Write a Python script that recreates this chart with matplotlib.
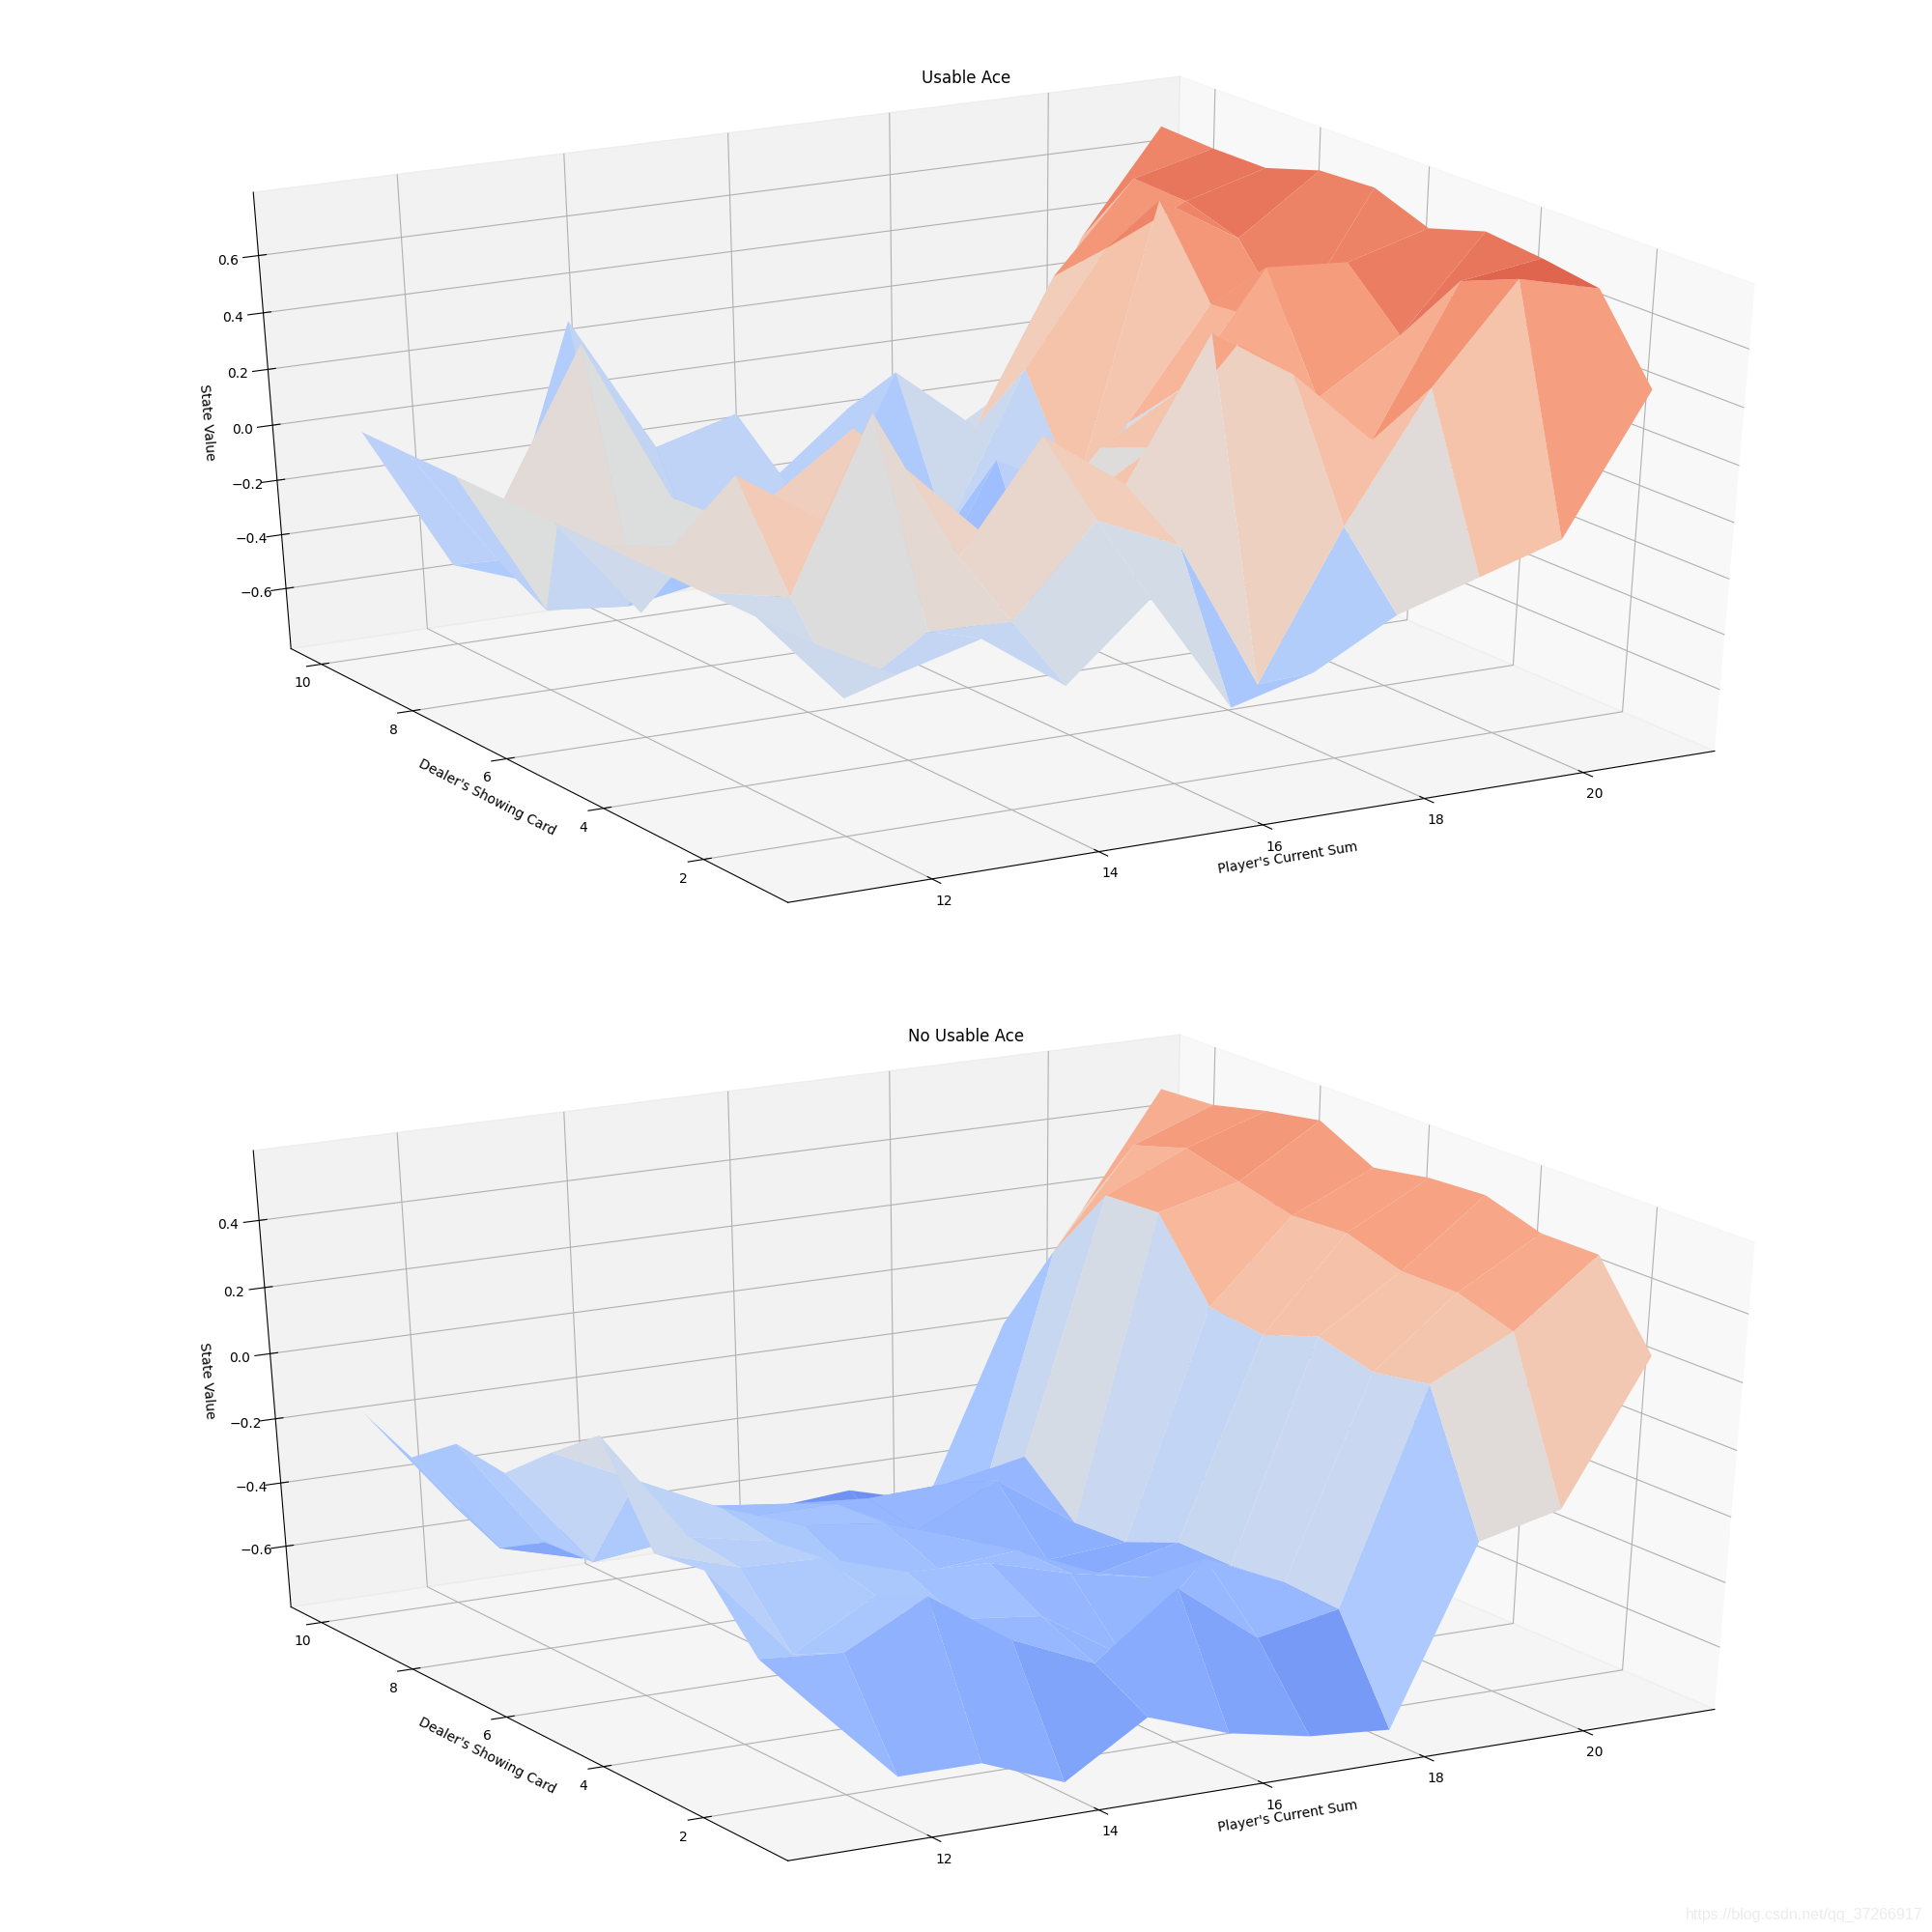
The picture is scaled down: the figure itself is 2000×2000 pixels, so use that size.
import numpy as np
import matplotlib
matplotlib.use("Agg")
import matplotlib.pyplot as plt

# player's current sum (columns), dealer's showing card (rows)
player = np.arange(11, 22)
dealer = np.arange(1, 11)

# state values, one row per dealer card 1..10
usable_ace = [
    [0, -.16, -.08, -.29, -.03, -.46, -.38, -.22, -.13, -.04, .44],
    [0, -.33, -.14, -.15, .16, .03, -.51, .01, .45, .78, .71],
    [0, -.06, .53, -.01, .37, .16, .64, .46, .19, .70, .74],
    [0, .28, .08, .22, -.07, .00, .17, .49, .26, .44, .76],
    [0, -.05, .08, .28, -.18, -.22, .09, .26, .64, .62, .70],
    [0, -.37, -.07, -.08, -.02, -.26, -.62, .06, .44, .32, .77],
    [0, .50, -.08, -.23, -.13, -.63, -.11, -.27, .73, .56, .76],
    [0, -.53, -.56, -.51, -.19, -.32, -.45, .10, .49, .62, .70],
    [0, -.43, .39, -.10, -.02, -.50, .05, -.19, .32, .63, .70],
    [0, -.53, -.64, -.68, -.72, -.39, -.16, -.35, -.18, .35, .71],
]
no_usable_ace = [
    [-.40, -.66, -.66, -.76, -.60, -.69, -.74, -.76, -.22, -.16, .26],
    [-.34, -.36, -.23, -.40, -.51, -.32, -.51, -.46, .18, .30, .49],
    [-.15, -.44, -.30, -.41, -.44, -.60, -.34, -.45, .15, .35, .49],
    [-.17, -.25, -.26, -.34, -.35, -.42, -.47, -.47, .19, .35, .54],
    [.11, -.23, -.28, -.43, -.44, -.42, -.53, -.47, .13, .40, .53],
    [-.01, -.13, -.25, -.34, -.37, -.46, -.56, -.54, .15, .39, .50],
    [-.14, -.45, -.42, -.38, -.38, -.50, -.38, -.55, .37, .43, .58],
    [-.12, -.46, -.53, -.42, -.45, -.47, -.46, -.41, .36, .47, .55],
    [-.23, -.55, -.62, -.46, -.54, -.71, -.71, -.68, .13, .42, .51],
    [-.16, -.48, -.65, -.53, -.61, -.64, -.62, -.69, -.16, .16, .50],
]

player_ticks = [12, 14, 16, 18, 20]
dealer_ticks = [2, 4, 6, 8, 10]
usable_zticks = [-.6, -.4, -.2, 0, .2, .4, .6]
no_usable_zticks = [-.6, -.4, -.2, 0, .2, .4]

fig = plt.figure(figsize=(20, 20), dpi=100)
X, Y = np.meshgrid(player, dealer)


def plot_value(values, cy, zlim, zticks, title):
    ax = fig.add_subplot(projection='3d')
    # old mplot3d stretched the cube to fill the axes
    ax.apply_aspect = lambda position=None: None
    ax.set_position([0.02, cy - 0.239, 0.96, 0.478])
    ax.set_box_aspect((1, 1, 1), zoom=0.9088 * 1.067)
    ax.view_init(30, -120)
    ax.plot_surface(X, Y, np.array(values), rstride=1, cstride=1,
                    cmap=matplotlib.cm.coolwarm, vmin=-1.0, vmax=1.0)
    ax.set_xlim(10.30, 21.68, view_margin=0)
    ax.set_ylim(0.36, 10.68, view_margin=0)
    ax.set_zlim(zlim[0], zlim[1], view_margin=0)
    ax.set_xticks(player_ticks)
    ax.set_yticks(dealer_ticks)
    ax.set_zticks(zticks)
    ax.set_xlabel("Player's Current Sum")
    ax.set_ylabel("Dealer's Showing Card")
    ax.set_zlabel("State Value")
    ax.set_title(title, y=1.009)


plot_value(usable_ace, 0.748, (-0.827, 0.818), usable_zticks, "Usable Ace")
plot_value(no_usable_ace, 0.252, (-0.795, 0.605), no_usable_zticks, "No Usable Ace")

fig.text(0.995, 0.009, "https://blog.csdn.net/qq_37266917", ha='right', va='center',
         fontsize=11.5, family='Liberation Sans', color='#ececec')

plt.savefig("out.png")
